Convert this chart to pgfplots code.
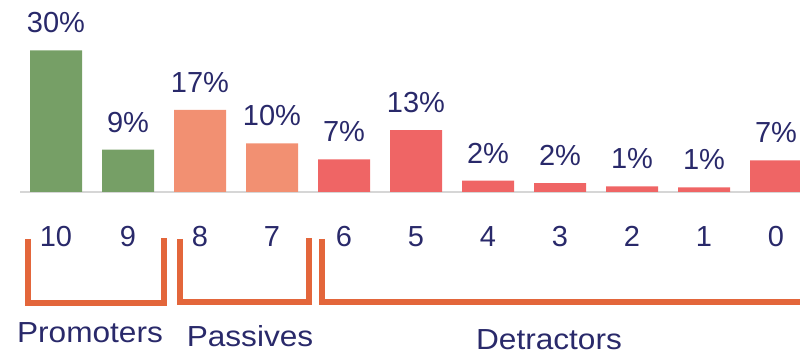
\documentclass[border=0pt]{standalone}
\usepackage{pgfplots}
\pgfplotsset{compat=1.18}
\usepackage{fontspec}
\setmainfont{Liberation Sans}
\newfontfamily\widefont{Liberation Sans}[FakeStretch=1.09]
\definecolor{prom}{HTML}{769F66}
\definecolor{pass}{HTML}{F29072}
\definecolor{detr}{HTML}{EF6565}
\definecolor{brk}{HTML}{E3663B}
\definecolor{txt}{HTML}{29296A}
\definecolor{base}{HTML}{D6D6D6}
\newcommand{\bigf}{\fontsize{29bp}{34bp}\selectfont}
\newcommand{\wordf}{\widefont\fontsize{29bp}{34bp}\selectfont}
\begin{document}
\begin{tikzpicture}
\useasboundingbox (0,0) rectangle (800bp,351bp);
\begin{axis}[
  at={(20bp,159bp)}, anchor=south west,
  scale only axis, width=780bp, height=192bp,
  xmin=-0.5, xmax=10.3333, ymin=0, ymax=40.68,
  axis x line=bottom, axis y line=none,
  x axis line style={-, draw=base, line width=2bp},
  ybar, bar width=52bp, bar shift=0pt,
  xtick={0,...,10}, xticklabels={10,9,8,7,6,5,4,3,2,1,0},
  xtick style={draw=none},
  xticklabel style={anchor=base, yshift=-50bp, font=\bigf, text=txt},
  ytick=\empty,
  nodes near coords, point meta=explicit symbolic,
  every node near coord/.append style={anchor=base, yshift=17.5bp, font=\bigf, text=txt},
]
\addplot[fill=prom, draw=none] coordinates {(0,30) [30\%] (1,9) [9\%]};
\addplot[fill=pass, draw=none] coordinates {(2,17.4) [17\%] (3,10.3) [10\%]};
\addplot[fill=detr, draw=none] coordinates {(4,6.9) [7\%] (5,13.1) [13\%] (6,2.4) [2\%] (7,1.9) [2\%] (8,1.2) [1\%] (9,1.0) [1\%] (10,6.7) [7\%]};
\end{axis}
\begin{scope}[line width=6bp, draw=brk, line cap=butt, line join=miter]
\draw (28bp,112bp) -- (28bp,48bp) -- (163.5bp,48bp) -- (163.5bp,113bp);
\draw (180bp,112bp) -- (180bp,49bp) -- (309bp,49bp) -- (309bp,113bp);
\draw (322bp,112bp) -- (322bp,49bp) -- (810bp,49bp);
\end{scope}
\node[anchor=base, font=\wordf, text=txt, inner sep=0pt] at (90bp,9bp) {Promoters};
\node[anchor=base, font=\wordf, text=txt, inner sep=0pt] at (250bp,5bp) {Passives};
\node[anchor=base, font=\wordf, text=txt, inner sep=0pt] at (549bp,2bp) {Detractors};
\end{tikzpicture}
\end{document}
